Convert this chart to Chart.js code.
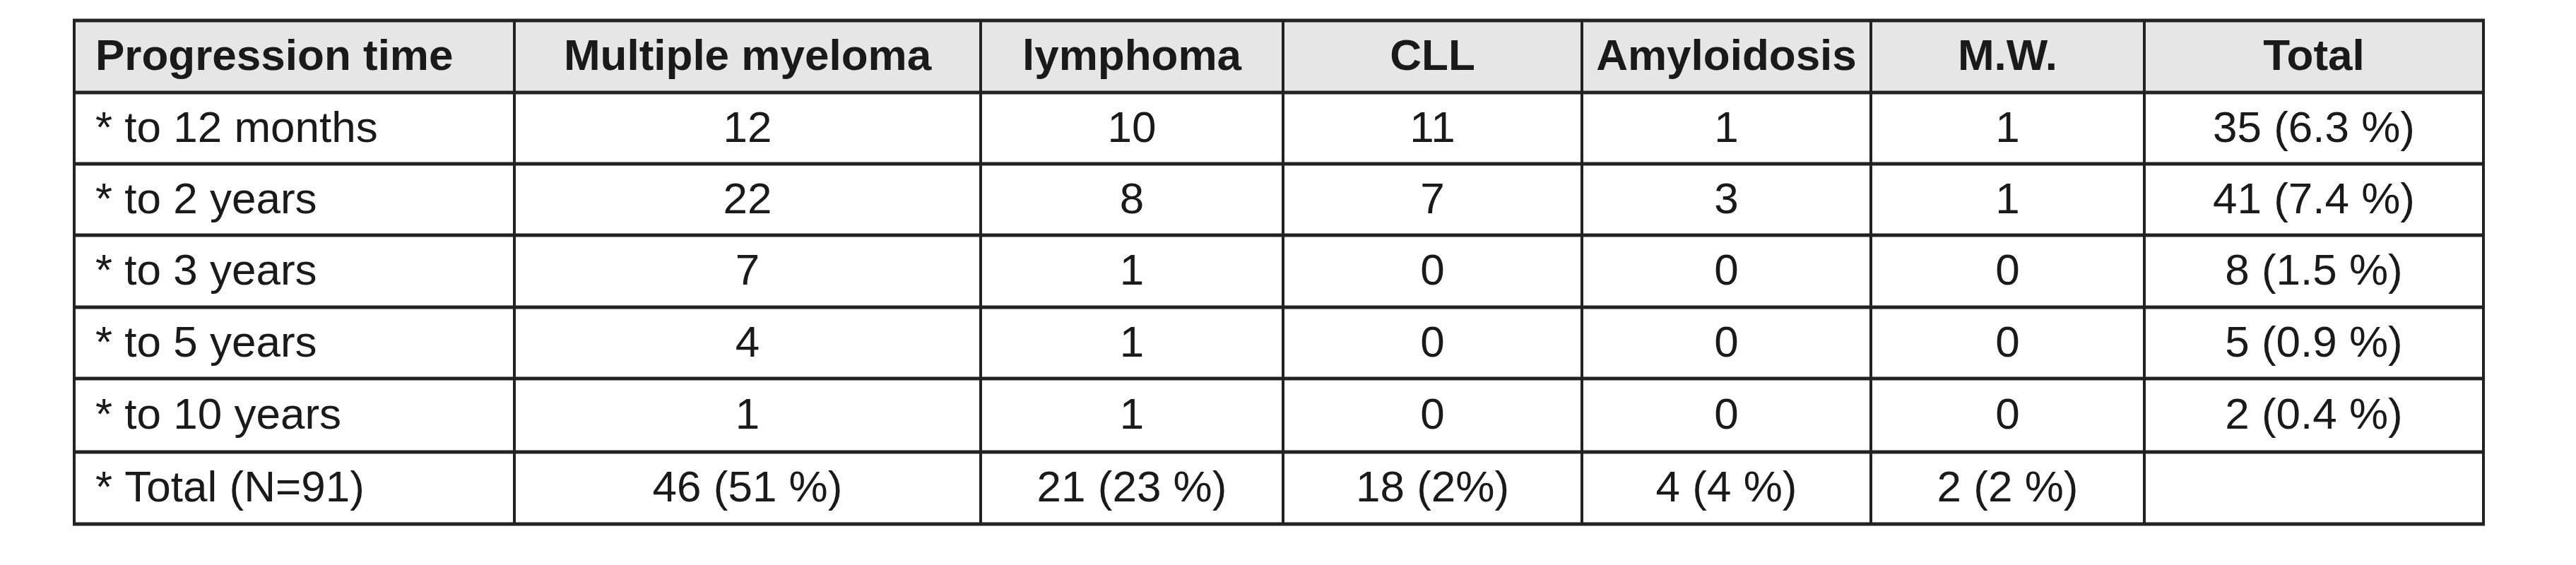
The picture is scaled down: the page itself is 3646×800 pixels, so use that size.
<!DOCTYPE html>
<html>
<head>
<meta charset="utf-8">
<script src="https://cdn.jsdelivr.net/npm/chart.js@4"></script>
<style>
  html, body { margin: 0; padding: 0; background: #fff; }
  #wrap { width: 3646px; height: 800px; }
</style>
</head>
<body>
<div id="wrap"><canvas id="tableChart"></canvas></div>
<script>
const headers = ['Progression time', 'Multiple myeloma', 'lymphoma', 'CLL', 'Amyloidosis', 'M.W.', 'Total'];
const rowLabels = ['* to 12 months', '* to 2 years', '* to 3 years', '* to 5 years', '* to 10 years', '* Total (N=91)'];
const myeloma = ['12', '22', '7', '4', '1', '46 (51 %)'];
const lymphoma = ['10', '8', '1', '1', '1', '21 (23 %)'];
const cll = ['11', '7', '0', '0', '0', '18 (2%)'];
const amyloidosis = ['1', '3', '0', '0', '0', '4 (4 %)'];
const mw = ['1', '1', '0', '0', '0', '2 (2 %)'];
const totals = ['35 (6.3 %)', '41 (7.4 %)', '8 (1.5 %)', '5 (0.9 %)', '2 (0.4 %)', ''];

// cell boundaries in picture units
const colEdges = [105, 728, 1388, 1816, 2239, 2648, 3035, 3515];
const rowEdges = [29, 131, 232, 333, 435, 536, 640, 742];

const columns = [rowLabels, myeloma, lymphoma, cll, amyloidosis, mw, totals];
const fontFamily = "'Liberation Sans Narrow', 'Liberation Sans', Arial, sans-serif";

const tablePlugin = {
  id: 'tablePlugin',
  beforeDatasetsDraw(chart) {
    const { ctx, scales: { x, y } } = chart;
    const px = v => x.getPixelForValue(v);
    const py = v => y.getPixelForValue(v);
    ctx.save();
    // header background
    ctx.fillStyle = '#e6e6e6';
    ctx.fillRect(px(colEdges[0]), py(rowEdges[0]), px(colEdges[colEdges.length - 1]) - px(colEdges[0]), py(rowEdges[1]) - py(rowEdges[0]));

    // text
    ctx.fillStyle = '#1a1a1a';
    ctx.textBaseline = 'middle';
    for (let c = 0; c < headers.length; c++) {
      const left = px(colEdges[c]);
      const mid = (px(colEdges[c]) + px(colEdges[c + 1])) / 2;
      ctx.font = `bold 62px ${fontFamily}`;
      ctx.textAlign = c === 0 ? 'left' : 'center';
      ctx.fillText(headers[c], c === 0 ? left + 30 : mid, (py(rowEdges[0]) + py(rowEdges[1])) / 2 + 2);
      ctx.font = `62px ${fontFamily}`;
      columns[c].forEach((val, r) => {
        const cy = (py(rowEdges[r + 1]) + py(rowEdges[r + 2])) / 2 + 2;
        ctx.fillText(val, c === 0 ? left + 30 : mid, cy);
      });
    }

    // grid lines
    ctx.strokeStyle = '#222';
    ctx.lineWidth = 5;
    ctx.beginPath();
    rowEdges.forEach(r => {
      ctx.moveTo(px(colEdges[0]) - 2, py(r));
      ctx.lineTo(px(colEdges[colEdges.length - 1]) + 2, py(r));
    });
    ctx.stroke();
    ctx.lineWidth = 4;
    ctx.beginPath();
    colEdges.forEach(cEdge => {
      ctx.moveTo(px(cEdge), py(rowEdges[0]));
      ctx.lineTo(px(cEdge), py(rowEdges[rowEdges.length - 1]));
    });
    ctx.stroke();
    ctx.restore();
  }
};

new Chart(document.getElementById('tableChart'), {
  type: 'scatter',
  data: { datasets: [{ data: [], pointRadius: 0 }] },
  options: {
    responsive: true,
    maintainAspectRatio: false,
    devicePixelRatio: 1,
    animation: false,
    layout: { padding: 0 },
    plugins: { legend: { display: false }, tooltip: { enabled: false } },
    scales: {
      x: { type: 'linear', min: 0, max: 3646, display: false },
      y: { type: 'linear', min: 0, max: 800, reverse: true, display: false }
    }
  },
  plugins: [tablePlugin]
});
</script>
</body>
</html>
